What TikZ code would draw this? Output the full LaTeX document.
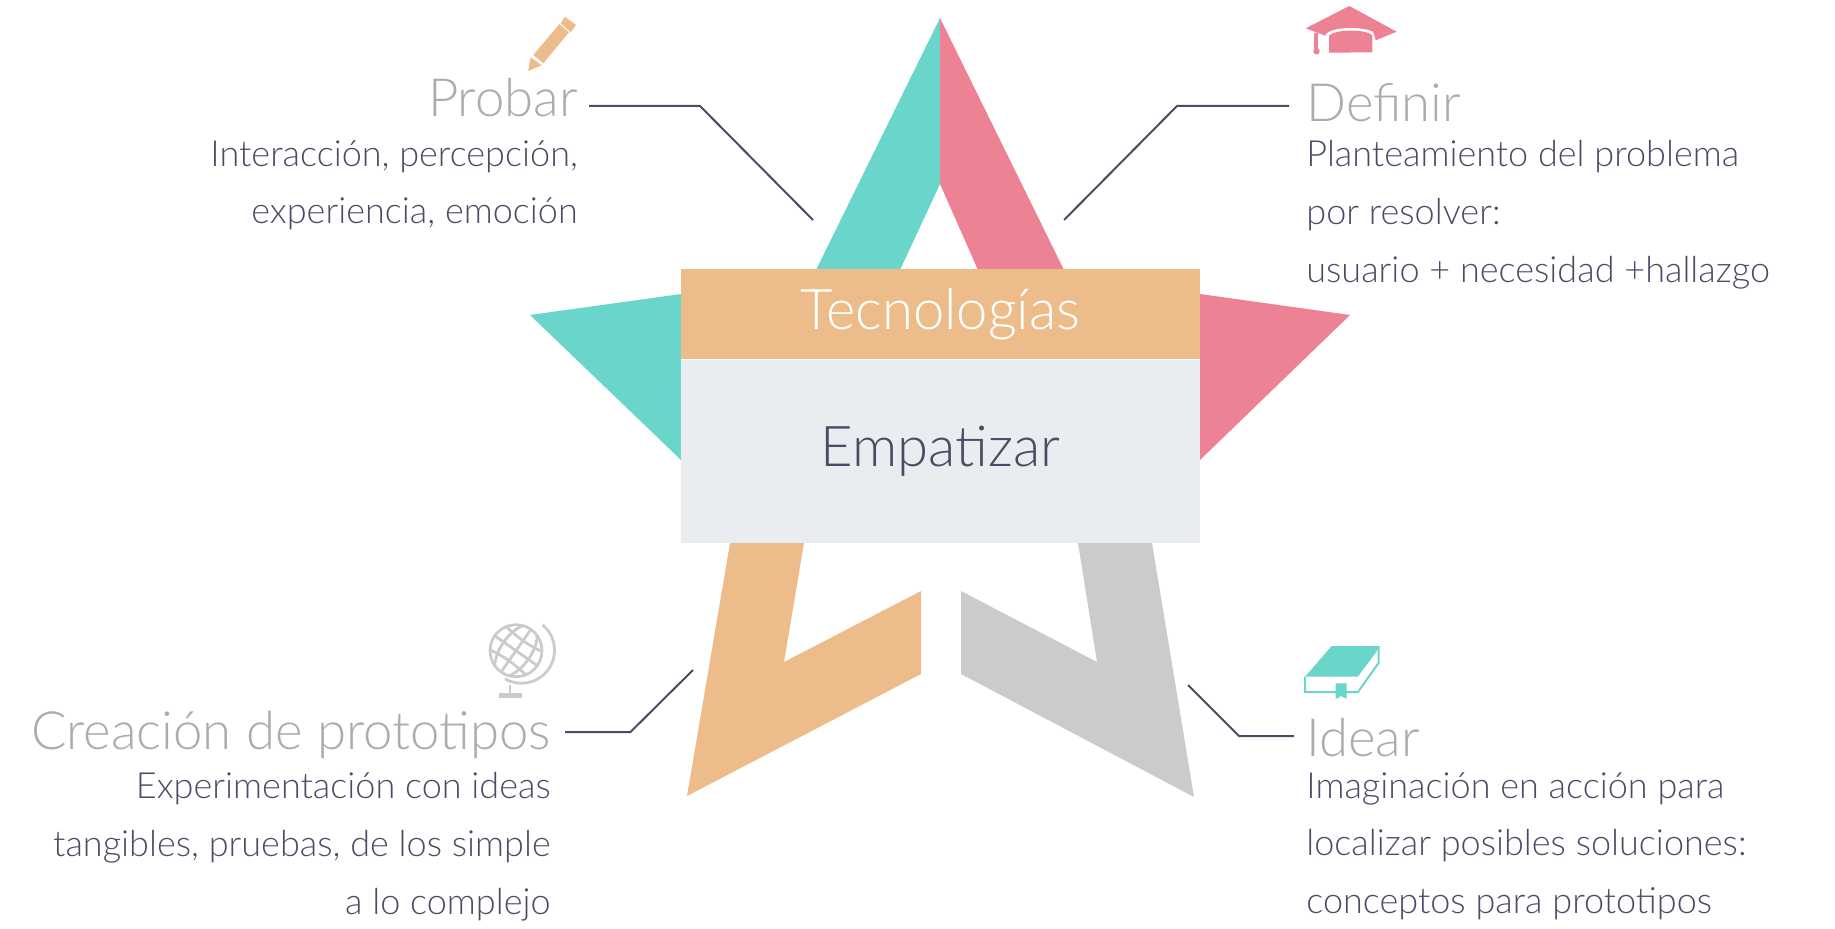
\documentclass[tikz,border=0pt]{standalone}
\usepackage{fontspec}
\setmainfont{Lato Light}
\definecolor{teal}{HTML}{69D5CB}
\definecolor{rose}{HTML}{EE8295}
\definecolor{sand}{HTML}{ECBD8B}
\definecolor{ash}{HTML}{C9CBCD}
\definecolor{mist}{HTML}{E9EDF0}
\definecolor{ink}{HTML}{4E4A66}
\definecolor{fade}{HTML}{A9ADAC}
\begin{document}
\begin{tikzpicture}[x=0.02cm,y=-0.02cm]
  \tikzstyle{heading}=[text=fade,font=\fontsize{30}{34}\selectfont,inner ysep=0pt]
  \tikzstyle{body}=[text=ink,font=\fontsize{20.5}{32.9}\selectfont,inner sep=0pt]
  \tikzstyle{leader}=[draw=ink,line width=0.04cm]
  \useasboundingbox (0,0) rectangle (1835,929);
  % star
  \fill[teal] (940,18) -- (940,184) -- (900,270) -- (816,270) -- cycle;
  \fill[rose] (940,18) -- (940,184) -- (978,270) -- (1064,270) -- cycle;
  \fill[teal] (681,294) -- (530,315) -- (681,460) -- cycle;
  \fill[rose] (1200,294) -- (1350,315) -- (1200,460) -- cycle;
  \fill[sand] (730,543) -- (687,796) -- (921,674) -- (921,591) -- (784,662) -- (804,543) -- cycle;
  \fill[ash] (1152,543) -- (1194,797) -- (961,674) -- (961,591) -- (1097,662) -- (1078,543) -- cycle;
  \node[fill=sand,text=white,minimum width=10.38cm,minimum height=1.82cm,font=\fontsize{32}{36}\selectfont] (tec) at (940.5,314) {Tecnologías};
  \node[fill=mist,text=ink,minimum width=10.38cm,minimum height=3.66cm,font=\fontsize{32}{36}\selectfont] (emp) at (940.5,451.5) {Empatizar};
  % titles
  \node[heading,anchor=base east,inner xsep=.22cm] (probar) at (589,117) {Probar};
  \node[heading,anchor=base west,inner xsep=.34cm] (definir) at (1289,122) {Definir};
  \node[heading,anchor=base east,inner xsep=.28cm] (creacion) at (565,749) {Creación de prototipos};
  \node[heading,anchor=base west,inner xsep=.24cm] (idear) at (1294,756) {Idear};
  % text
  \node[body,anchor=north east,align=right] (probartxt) at (578,140) {Interacción, percepción,\\experiencia, emoción};
  \node[body,anchor=north west,align=left] (definirtxt) at (1306,140) {Planteamiento del problema\\por resolver:\\usuario + necesidad +hallazgo};
  \node[body,anchor=north east,align=right] (creaciontxt) at (551,772) {Experimentación con ideas\\tangibles, pruebas, de los simple\\a lo complejo};
  \node[body,anchor=north west,align=left] (ideartxt) at (1306,772) {Imaginación en acción para\\localizar posibles soluciones:\\conceptos para prototipos};
  % connectors
  \coordinate (pbend) at (700,106);
  \coordinate (pend) at (813,220);
  \coordinate (dbend) at (1177,106);
  \coordinate (dend) at (1064,220);
  \coordinate (cbend) at (630.5,732);
  \coordinate (cend) at (693,670);
  \coordinate (ibend) at (1239,736);
  \coordinate (iend) at (1188,685);
  \draw[leader] (probar.east |- pbend) -- (pbend) -- (pend);
  \draw[leader] (definir.west |- dbend) -- (dbend) -- (dend);
  \draw[leader] (creacion.east |- cbend) -- (cbend) -- (cend);
  \draw[leader] (idear.west |- ibend) -- (ibend) -- (iend);
  % pencil
  \fill[sand] (528.3,71) -- (530.7,57.3) -- (541.7,65.3) -- cycle;
  \fill[sand] (533.3,55) -- (543.3,63.3) -- (569,32.3) -- (559.3,24) -- cycle;
  \fill[sand] (565,16.7) -- (576,25) -- (570.7,32.3) -- (560.7,23.3) -- cycle;
  % cap
  \fill[rose] (1305.7,28.3) -- (1349.3,6) -- (1396.7,31.7) -- (1375.7,40.3) -- (1373,31.7)
    .. controls (1365,27) and (1335,26) .. (1326.7,33.3) -- (1325,35.7) -- cycle;
  \fill[rose] (1329,35.7) .. controls (1335,29) and (1365,29) .. (1372.3,35) -- (1372.3,52.3) -- (1329,52.7) -- cycle;
  \fill[rose] (1314.3,33.3) rectangle (1317.7,50);
  \fill[rose] (1316.5,51.3) circle (3.2);
  % globe
  \begin{scope}[draw=ash,line width=0.055cm]
    \draw (516,650.7) circle (26);
    \begin{scope}
      \clip (516,650.7) circle (26);
      \begin{scope}[shift={(516,650.7)},rotate=-35]
        \draw (0,-30) -- (0,30);
        \draw (0,0) ellipse (15 and 30);
        \draw (-30,0) -- (30,0);
        \draw (-30,-16) .. controls (-10,-11) and (10,-11) .. (30,-16);
        \draw (-30,16) .. controls (-10,11) and (10,11) .. (30,16);
      \end{scope}
    \end{scope}
    \draw (542.7,625) arc[start angle=-50,end angle=120,radius=33];
    \draw (510,685) -- (510,694);
    \fill[ash] (499.3,693.3) rectangle (521.7,697.7);
  \end{scope}
  % book
  \fill[teal] (1305,676.7) -- (1331.7,646) -- (1379,646) -- (1377,651) -- (1357.7,676.7) -- cycle;
  \draw[teal,line width=0.04cm] (1305,676.7) -- (1305,692) -- (1358,692) -- (1378.5,663) -- (1378.5,646);
  \fill[teal] (1335.7,683.3) -- (1346.7,683.3) -- (1346.7,699) -- (1341.2,696) -- (1335.7,699) -- cycle;
\end{tikzpicture}
\end{document}
